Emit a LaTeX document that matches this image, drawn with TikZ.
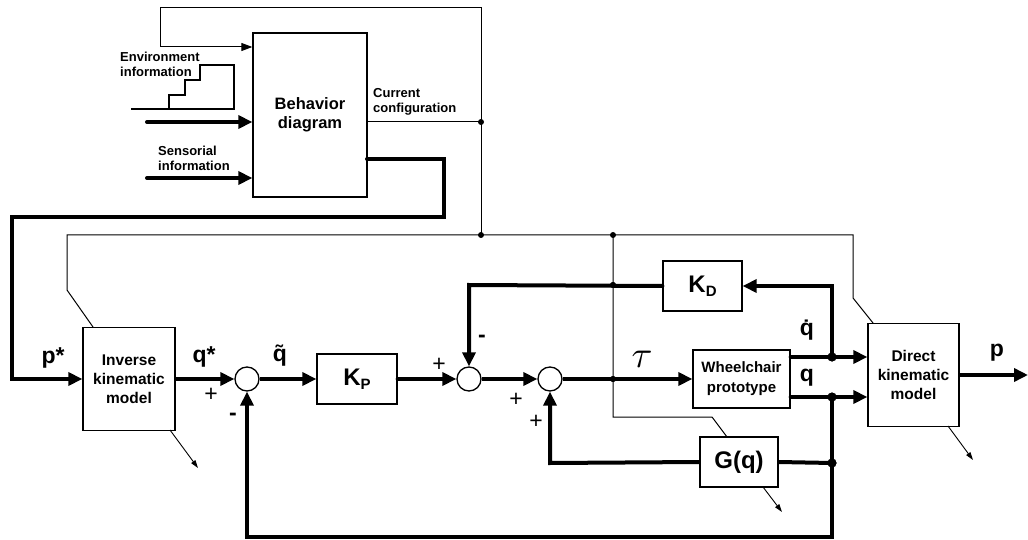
\documentclass[tikz,border=0pt]{standalone}
\usepackage{fontspec}
\setmainfont{Liberation Sans}
\usetikzlibrary{arrows.meta}
\begin{document}
\begin{tikzpicture}[x=1pt,y=-1pt,
  blk/.style={draw, line width=1.3pt, inner sep=0pt, align=center,
    font=\bfseries\fontsize{15.5}{19}\selectfont},
  sumc/.style={circle, draw, line width=1.3pt, minimum size=24pt, inner sep=0pt},
  sigl/.style={line width=4pt},
  sig/.style={line width=4pt, -{Triangle[length=14pt,width=13pt]}},
  thinl/.style={line width=1pt},
  tarr/.style={line width=1pt, -{Triangle[length=11pt,width=8pt]}},
  sarr/.style={line width=0.9pt, -{Triangle[length=8pt,width=5pt]}},
  dot/.style={circle, fill, inner sep=0pt, minimum size=9pt},
  tdot/.style={circle, fill, inner sep=0pt, minimum size=6pt},
  small/.style={font=\bfseries\fontsize{13}{15}\selectfont, align=left, inner sep=0pt},
  big/.style={font=\bfseries\fontsize{23}{23}\selectfont, inner sep=0pt},
  sign/.style={font=\fontsize{23}{23}\selectfont, inner sep=0pt},
]
\useasboundingbox (0,0) rectangle (1028,540);

% blocks
\node[blk, minimum width=114pt, minimum height=164pt, font=\bfseries\fontsize{16.5}{19}\selectfont] (bd) at (310,115) {Behavior\\diagram};
\node[blk, minimum width=92pt, minimum height=103pt] (ik) at (129,379) {Inverse\\kinematic\\model};
\node[blk, minimum width=80pt, minimum height=50pt, font=\bfseries\fontsize{24}{24}\selectfont] (kp) at (357,379) {K\raisebox{-4pt}{\fontsize{15}{15}\selectfont P}};
\node[blk, minimum width=79pt, minimum height=50pt, font=\bfseries\fontsize{24}{24}\selectfont] (kd) at (702.5,286) {K\raisebox{-4pt}{\fontsize{15}{15}\selectfont D}};
\node[blk, minimum width=97pt, minimum height=58pt, font=\bfseries\fontsize{15}{20}\selectfont] (wh) at (741.5,379) {Wheelchair\\prototype};
\node[blk, minimum width=78pt, minimum height=50pt, font=\bfseries\fontsize{24}{24}\selectfont] (gq) at (739,462) {G(q)};
\node[blk, minimum width=91pt, minimum height=103pt] (dk) at (913.5,375) {Direct\\kinematic\\model};

\node[sumc] (c1) at (247,379) {};
\node[sumc] (c2) at (469,379) {};
\node[sumc] (c3) at (550,379) {};

% junctions
\node[tdot] (jcur) at (481,122) {};
\node[tdot] (jtop) at (481,235) {};
\node[tdot] (jmid) at (613,235) {};
\node[tdot] (jkd) at (613,285) {};
\node[tdot] (jtau) at (613,379) {};
\node[dot] (jqd) at (832,357) {};
\node[dot] (jq) at (832,397) {};
\node[dot] (jg) at (832,463) {};

% coordinates
\coordinate (envin) at (147,122);
\coordinate (senin) at (147,178);
\coordinate (bdout) at (367,159);
\coordinate (a1) at (444,159);
\coordinate (a2) at (444,217);
\coordinate (a3) at (12,217);
\coordinate (a4) at (12,379);
\coordinate (t1) at (481,8);
\coordinate (t2) at (160,8);
\coordinate (t3) at (160,47);
\coordinate (l1) at (67,235);
\coordinate (l2) at (67,290);
\coordinate (l3) at (93,327);
\coordinate (r1) at (853,235);
\coordinate (r2) at (853,298);
\coordinate (r3) at (873,323);
\coordinate (g1) at (613,417);
\coordinate (g2) at (712,417);
\coordinate (g3) at (727,437);
\coordinate (kdc) at (469,285);
\coordinate (bot1) at (832,537);
\coordinate (bot2) at (247,537);
\coordinate (gl) at (550,463);
\coordinate (pout) at (1028,375);
\coordinate (ika) at (170,430);
\coordinate (ikb) at (198,468);
\coordinate (gqa) at (763,487);
\coordinate (gqb) at (782,512);
\coordinate (dka) at (948,426);
\coordinate (dkb) at (973,460);

% staircase
\draw[line width=1.2pt] (131,109) -- (234,109) -- (234,65) -- (200,65) -- (200,80)
  -- (185,80) -- (185,95) -- (169,95) -- (169,109);

% thin connectors
\draw[tarr] (jtop.center) -- (t1) -- (t2) -- (t3) -- (bd.west |- t3);
\draw[thinl] (bd.east |- jcur) -- (jcur.center);
\draw[thinl] (l3) -- (l2) -- (l1) -- (r1) -- (r2) -- (r3);
\draw[thinl] (jmid.center) -- (g1) -- (g2) -- (g3);
\draw[sarr] (ika) -- (ikb);
\draw[sarr] (gqa) -- (gqb);
\draw[sarr] (dka) -- (dkb);

% thick connectors
\draw[sig, line cap=round] (envin) -- (bd.west |- envin);
\draw[sig, line cap=round] (senin) -- (bd.west |- senin);
\draw[sig, line cap=round] (bdout) -- (a1) -- (a2) -- (a3) -- (a4) -- (ik.west |- a4);
\draw[sig] (ik.east) -- (c1.west);
\draw[sig] (c1.east) -- (kp.west);
\draw[sig, line cap=round] (kp.east) -- (c2.west);
\draw[sig] (c2.east) -- (c3.west);
\draw[sig] (c3.east) -- (wh.west);
\draw[sig, line cap=round] (wh.east |- jqd) -- (dk.west |- jqd);
\draw[sig, line cap=round] (wh.east |- jq) -- (dk.west |- jq);
\draw[sig] (jqd.center) -- (kd.east -| jqd) -- (kd.east);
\draw[sig, line cap=round] (kd.west) -- (kdc) -- (c2.north);
\draw[sig] (jq.center) -- (bot1) -- (bot2) -- (c1.south);
\draw[sigl] (jg.center) -- (gq.east);
\draw[sig] (gq.west) -- (gl) -- (c3.south);
\draw[sig] (dk.east |- pout) -- (pout);

% redraw junction dots on top
\node[tdot] at (jkd) {};
\node[tdot] at (jtau) {};
\node[dot] at (jqd) {};
\node[dot] at (jq) {};
\node[dot] at (jg) {};

% text labels
\node[small, anchor=west] (envt) at (120,64.5) {Environment\\information};
\node[small, anchor=west] (sent) at (158,158.5) {Sensorial\\information};
\node[small, anchor=west] (curt) at (373,101.5) {Current\\configuration};

\node[big] (lps) at (53,358) {p*};
\node[big] (lqs) at (204,357) {q*};
\node[big] (lqt) at (280,356) {\~{q}};
\node[big] (lqd) at (807,330) {\.{q}};
\node[big] (lq) at (807,378) {q};
\node[big] (lp) at (997,353) {p};
\node[inner sep=0pt] (ltau) at (642,359) {\scalebox{3.8}{$\tau$}};

\node[sign] (s1) at (211,395) {+};
\node[big] (s2) at (233,417) {-};
\node[sign] (s3) at (439,365) {+};
\node[big] (s4) at (482,339) {-};
\node[sign] (s5) at (516,400) {+};
\node[sign] (s6) at (536,422) {+};
\end{tikzpicture}
\end{document}
